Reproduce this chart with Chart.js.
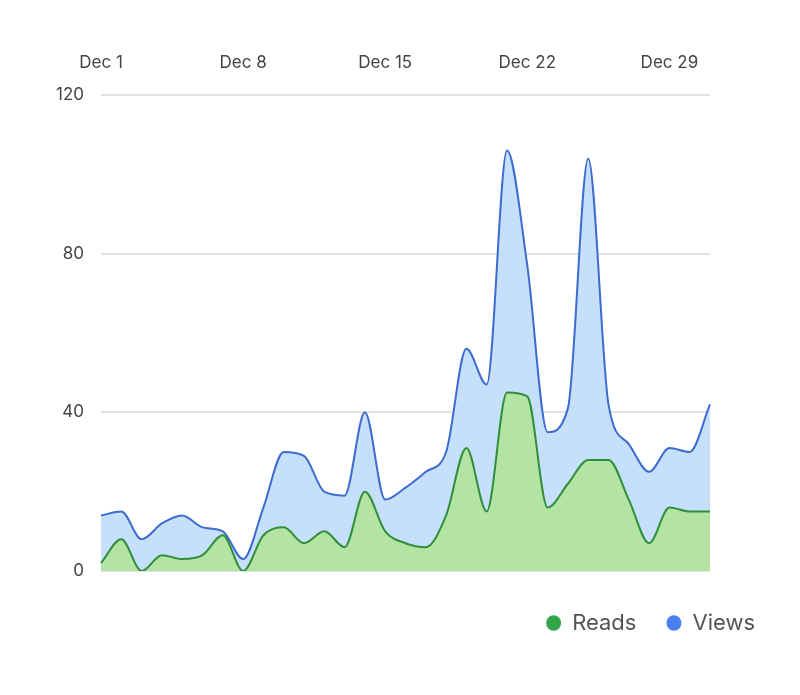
<!DOCTYPE html>
<html>
<head>
<meta charset="utf-8">
<script src="https://cdn.jsdelivr.net/npm/chart.js@4/dist/chart.umd.min.js"></script>
<style>
  html, body { margin: 0; padding: 0; background: #fff; }
  #wrap { width: 800px; height: 695px; }
</style>
</head>
<body>
<div id="wrap"><canvas id="chart"></canvas></div>
<script>
// Days of December
const days = [
  'Dec 1', 'Dec 2', 'Dec 3', 'Dec 4', 'Dec 5', 'Dec 6', 'Dec 7',
  'Dec 8', 'Dec 9', 'Dec 10', 'Dec 11', 'Dec 12', 'Dec 13', 'Dec 14',
  'Dec 15', 'Dec 16', 'Dec 17', 'Dec 18', 'Dec 19', 'Dec 20', 'Dec 21',
  'Dec 22', 'Dec 23', 'Dec 24', 'Dec 25', 'Dec 26', 'Dec 27', 'Dec 28',
  'Dec 29', 'Dec 30', 'Dec 31',
];

// Daily counts
const views = [
  14, 15, 8, 12, 14, 11, 10, 3, 16, 30, 29, 20, 19, 40, 18, 21,
  25, 30, 56, 47, 106, 77, 35, 41, 104, 42, 32, 25, 31, 30, 42,
];
const reads = [
  2, 8, 0, 4, 3, 4, 9, 0, 9, 11, 7, 10, 6, 20, 10, 7,
  6, 14, 31, 15, 45, 44, 16, 22, 28, 28, 18, 7, 16, 15, 15,
];

// Ticks shown on the axes
const yTicks = [0, 40, 80, 120];
const xTickEvery = 7;

const legendColors = { Reads: '#34a448', Views: '#4a7ff0' };
const font = 'Inter, "Liberation Sans", sans-serif';

new Chart(document.getElementById('chart'), {
  type: 'line',
  data: {
    labels: days,
    datasets: [
      {
        label: 'Reads',
        data: reads,
        borderColor: '#2f8f3a',
        backgroundColor: '#b4e4a3',
        borderWidth: 2,
        fill: 'origin',
        pointRadius: 0,
        cubicInterpolationMode: 'monotone',
      },
      {
        label: 'Views',
        data: views,
        borderColor: '#3d6bd0',
        backgroundColor: '#c6dffb',
        borderWidth: 2,
        fill: 'origin',
        pointRadius: 0,
        cubicInterpolationMode: 'monotone',
      },
    ],
  },
  options: {
    responsive: true,
    maintainAspectRatio: false,
    animation: false,
    layout: { padding: { left: 0, right: 15, top: 40, bottom: 51 } },
    plugins: {
      tooltip: { enabled: false },
      legend: {
        position: 'bottom',
        align: 'end',
        labels: {
          usePointStyle: true,
          pointStyle: 'circle',
          boxWidth: 15,
          boxHeight: 11,
          pointStyleWidth: 15,
          padding: 30,
          color: '#555',
          font: { family: font, size: 22 },
          generateLabels: (chart) => {
            const items = Chart.defaults.plugins.legend.labels.generateLabels(chart);
            items.forEach((it) => {
              it.fillStyle = legendColors[it.text];
              it.strokeStyle = legendColors[it.text];
              it.lineWidth = 0;
            });
            return items;
          },
        },
      },
    },
    scales: {
      x: {
        position: 'top',
        offset: false,
        grid: { display: false, drawTicks: false },
        border: { display: false },
        afterFit: (scale) => { scale.height = 55; },
        ticks: {
          autoSkip: false,
          maxRotation: 0,
          padding: 22,
          color: '#444',
          font: { family: font, size: 17 },
          callback: function (value, index) {
            return index % xTickEvery === 0 ? days[index] : '';
          },
        },
      },
      // empty spacer between plot and legend
      xGap: {
        position: 'bottom',
        grid: { display: false, drawTicks: false },
        border: { display: false },
        ticks: { display: false },
        afterFit: (scale) => { scale.height = 11; },
      },
      y: {
        min: 0,
        max: 120,
        afterFit: (scale) => { scale.width = 101; },
        afterBuildTicks: (scale) => {
          scale.ticks = yTicks.map((v) => ({ value: v }));
        },
        grid: { color: '#e3e3e3', lineWidth: 2, drawTicks: false },
        border: { display: false },
        ticks: {
          padding: 17,
          color: '#444',
          font: { family: font, size: 17 },
        },
      },
      // empty spacer on the right so the legend can run past the plot
      yGap: {
        position: 'right',
        grid: { display: false, drawTicks: false },
        border: { display: false },
        ticks: { display: false },
        afterFit: (scale) => { scale.width = 75; },
      },
    },
  },
});
</script>
</body>
</html>
